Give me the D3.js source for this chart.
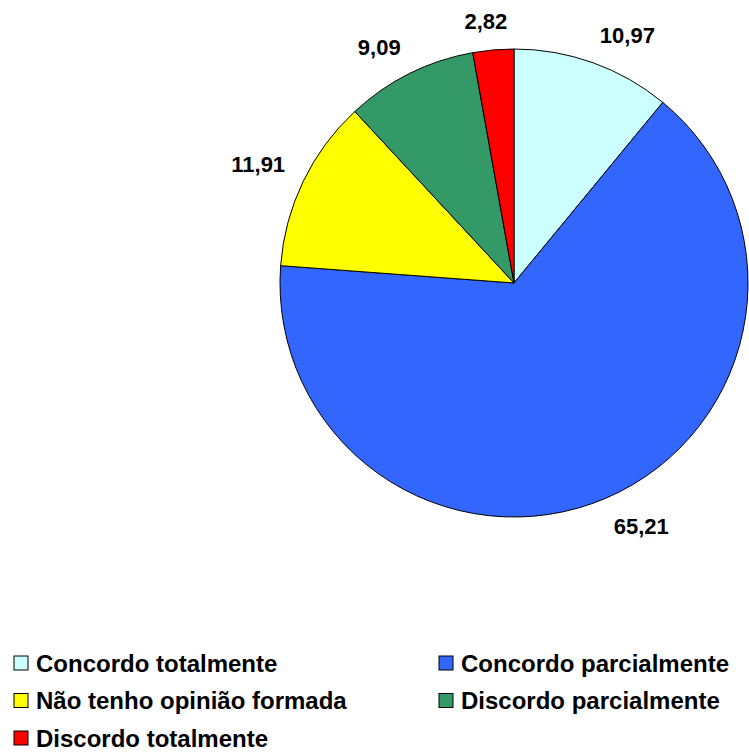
<!DOCTYPE html>
<html>
<head>
<meta charset="utf-8">
<script src="https://cdn.jsdelivr.net/npm/d3@7"></script>
<style>
  body { margin: 0; background: #fff; }
  text { font-family: Arial, "Liberation Sans", sans-serif; font-weight: bold; }
</style>
</head>
<body>
<svg id="chart" width="749" height="753"></svg>
<script>
var categories = ["Concordo totalmente", "Concordo parcialmente", "Não tenho opinião formada", "Discordo parcialmente", "Discordo totalmente"];
var values = [10.97, 65.21, 11.91, 9.09, 2.82];
var labels = ["10,97", "65,21", "11,91", "9,09", "2,82"];
var colors = ["#CCFFFF", "#3366FF", "#FFFF00", "#339966", "#FF0000"];

var svg = d3.select("#chart"),
  cx = 514,
  cy = 283,
  radius = 234;

var data = categories.map(function(c, i) {
  return { name: c, value: values[i], label: labels[i], color: colors[i] };
});

var pie = d3.pie()
  .sort(null)
  .value(function(d) { return d.value; });

var arc = d3.arc().innerRadius(0).outerRadius(radius);

var g = svg.append("g")
  .attr("transform", "translate(" + cx + "," + cy + ")");

var arcs = pie(data);

g.selectAll("path")
  .data(arcs)
  .enter()
  .append("path")
  .attr("d", arc)
  .attr("fill", function(d) { return d.data.color; })
  .attr("stroke", "#000")
  .attr("stroke-width", 1);

// labels sit just outside the rim, box pushed away from the center
var clamp = function(v) { return Math.max(-1, Math.min(1, v)); };
var labelR = radius + 20;

g.selectAll(".lbl")
  .data(arcs)
  .enter()
  .append("text")
  .attr("class", "lbl")
  .attr("font-size", 22)
  .attr("text-anchor", "middle")
  .attr("dy", "0.36em")
  .text(function(d) { return d.data.label; })
  .each(function(d) {
    var a = (d.startAngle + d.endAngle) / 2,
      w = this.getComputedTextLength(),
      h = 18,
      px = labelR * Math.sin(a),
      py = -labelR * Math.cos(a);
    d3.select(this)
      .attr("x", px + (w / 2) * clamp(3 * Math.sin(a)))
      .attr("y", py + (h / 2) * clamp(-3 * Math.cos(a)));
  });

// legend
var legendX = d3.scaleOrdinal().domain([0, 1]).range([14, 439]);
var legendY = d3.scaleLinear().domain([0, 2]).range([663, 738]);

var legend = svg.append("g");

var item = legend.selectAll("g")
  .data(data)
  .enter()
  .append("g")
  .attr("transform", function(d, i) {
    return "translate(" + legendX(i % 2) + "," + legendY(Math.floor(i / 2)) + ")";
  });

item.append("rect")
  .attr("x", 0)
  .attr("y", -7)
  .attr("width", 14)
  .attr("height", 14)
  .attr("fill", function(d) { return d.color; })
  .attr("stroke", "#000")
  .attr("stroke-width", 1);

item.append("text")
  .attr("x", 22)
  .attr("dy", "0.36em")
  .attr("font-size", 24)
  .attr("fill", "#000")
  .text(function(d) { return d.name; });
</script>
</body>
</html>
